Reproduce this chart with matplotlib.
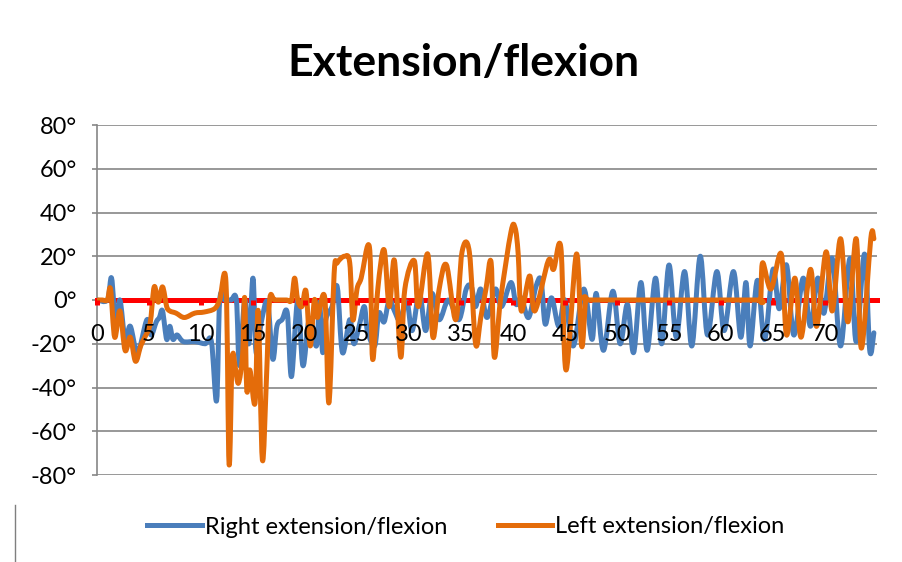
import matplotlib
matplotlib.use('Agg')
import matplotlib.pyplot as plt
from matplotlib.lines import Line2D
from matplotlib.path import Path
from matplotlib.patches import PathPatch

plt.rcParams['font.family'] = ['Lato', 'DejaVu Sans']

# readings (x position, angle in degrees) taken off the chart
right_x = [0, 1.0, 1.4, 1.8, 2.2, 2.7, 3.2, 3.9, 4.8, 5.2, 5.7, 6.0, 6.3, 6.7, 7.0, 7.3,
           7.7, 8.3, 9.4, 10.4, 11.0, 11.5, 11.8, 12.3, 12.9, 13.4, 13.7, 14.2, 14.6,
           15.0, 15.3, 15.8, 16.4, 16.9, 17.3, 17.8, 18.3, 18.7, 19.3, 19.8, 20.4, 21.1,
           21.4, 21.7, 22.0, 22.6, 23.1, 23.6, 24.3, 24.7, 25.2, 25.7, 26.0, 26.7, 27.1,
           27.6, 28.1, 28.6, 29.1, 29.8, 30.3, 31.0, 31.6, 32.2, 32.9, 33.8, 34.8, 35.5,
           36.0, 36.4, 36.9, 37.5, 38.3, 38.9, 39.8, 40.3, 40.8, 41.5, 42.2, 42.7, 43.1,
           43.7, 44.4, 45.0, 45.8, 46.8, 47.6, 48.0, 48.7, 49.6, 50.3, 51.0, 51.6, 52.3,
           52.9, 53.7, 54.3, 55.0, 55.7, 56.5, 57.2, 58.0, 58.7, 59.6, 60.3, 61.2, 61.9,
           62.4, 62.8, 63.5, 64.2, 65.0, 65.6, 66.3, 67.0, 67.9, 68.6, 69.3, 69.9, 70.7,
           71.5, 72.4, 73.0, 73.8, 74.3, 74.7]
right_y = [0, 0, 10, -12, 0, -18, -12, -24, -9, -16, -10, -8, -5, -18, -12, -18,
           -16, -19, -19, -20, -19, -46, 0, 0, 0, 0, -30, 0, -20,
           10, -24, -10, -1, -27, -12, -9, -6, -35, 0, -30, -9, -21,
           -1, -24, -9, -3, 6, -24, -9, -20, -12, -3, -14, -21, -6,
           -10, 0, -5, -9, -1, -14, 3, -14, 3, -9, 0, -9, 5,
           6, -3, 5, -8, 5, -3, 8, -2, 1, -8, 6, 9, -11,
           1, -12, 0, -21, 5, -18, 3, -23, 4, -20, -2, -24, 8,
           -23, 10, -20, 16, -17, 13, -21, 20, -16, 13, -14, 13, -17,
           8, -21, 9, -18, 14, -4, 16, -16, 10, -12, 10, -6, 19,
           -21, 19, -19, 21, -23, -15]

left_x = [0, 0.5, 1.0, 1.3, 1.7, 2.2, 2.7, 3.2, 3.7, 4.2, 4.6, 5.1, 5.5, 5.9, 6.3, 6.7,
          7.0, 7.6, 8.4, 9.4, 10.3, 11.3, 11.8, 12.4, 12.7, 13.0, 13.3, 13.6, 14.0,
          14.2, 14.4, 14.7, 15.2, 15.5, 15.9, 16.3, 16.6, 17.1, 18.2, 18.7, 19.0, 19.3,
          19.7, 20.1, 20.5, 20.9, 21.2, 21.9, 22.3, 22.8, 23.1, 23.8, 24.3, 24.6, 25.0,
          25.4, 26.2, 26.5, 27.0, 27.6, 28.1, 28.6, 29.2, 29.6, 30.5, 30.9, 31.8, 32.3,
          32.9, 33.6, 34.5, 35.1, 35.8, 36.4, 36.9, 37.4, 37.9, 38.2, 38.8, 39.8, 40.2,
          40.5, 40.8, 41.6, 42.1, 43.4, 43.9, 44.6, 45.1, 46.1, 46.6, 47.0, 47.5, 55.0,
          63.3, 63.8, 64.0, 64.8, 65.8, 66.3, 67.1, 67.7, 68.6, 69.2, 70.1, 70.7, 71.5,
          72.2, 73.0, 73.5, 74.4, 74.7]
left_y = [0, 0, 0, 5, -17, -5, -23, -17, -28, -21, -17, -11, 6, -1, 6, -3,
          -5, -6, -8, -6, -5.5, -4, 0, 8, -75, -27, -31, -38, -25,
          1, -41, -32, -47, -5, -73, -35, 0, 0, 0, 0, 10, 0,
          -3, 4, -21, 0, -8, 1, -47, 12, 17, 20, 17, -9, 5,
          10, 24, -27, 5, 23, -3, 18, -26, 5, 18, -3, 21, -17,
          5, 16, -9, 22, 22, -20, -8, 5, 17, -26, 0, 31, 33,
          21, -5, 11, -5, 18, 14, 24, -32, 21, -21, 0, 0, 0,
          0, 0, 17, 5, 21, -16, 10, -17, 14, -12, 22, -5, 28,
          -10, 28, -22, 28, 28]

x_ticks = [0, 5, 10, 15, 20, 25, 30, 35, 40, 45, 50, 55, 60, 65, 70]
y_ticks = [-80, -60, -40, -20, 0, 20, 40, 60, 80]
y_labels = ['-80°', '-60°', '-40°', '-20°', '0°', '20°', '40°', '60°', '80°']

blue = '#4A7EBB'
orange = '#E46C0A'
grid_col = '#868686'


def smooth_path(xs, ys, k=6.0):
    # Excel-like smoothed line: Catmull-Rom segments drawn as cubic Beziers
    pts = list(zip(xs, ys))
    verts = [pts[0]]
    codes = [Path.MOVETO]
    n = len(pts)
    for i in range(n - 1):
        p0 = pts[max(i - 1, 0)]
        p1 = pts[i]
        p2 = pts[i + 1]
        p3 = pts[min(i + 2, n - 1)]
        c1 = (p1[0] + (p2[0] - p0[0]) / k, p1[1] + (p2[1] - p0[1]) / k)
        c2 = (p2[0] - (p3[0] - p1[0]) / k, p2[1] - (p3[1] - p1[1]) / k)
        verts += [c1, c2, p2]
        codes += [Path.CURVE4] * 3
    return Path(verts, codes)


fig = plt.figure(figsize=(9.03, 5.62), dpi=100)
ax = fig.add_axes([97 / 903, 1 - 475 / 562, 780 / 903, 350 / 562])

ax.add_patch(PathPatch(smooth_path(right_x, right_y), fill=False, edgecolor=blue,
                       lw=3.6, joinstyle='round', capstyle='round', zorder=3))
ax.add_patch(PathPatch(smooth_path(left_x, left_y), fill=False, edgecolor=orange,
                       lw=3.6, joinstyle='round', capstyle='round', zorder=4))

ax.set_xlim(0, 75)
ax.set_ylim(-80, 80)

ax.set_yticks(y_ticks)
ax.set_yticklabels(y_labels)
ax.set_xticks(x_ticks)
ax.set_xticklabels([str(t) for t in x_ticks])

ax.yaxis.grid(True, color=grid_col, lw=1.2)
ax.set_axisbelow(True)
# category labels sit on top of the series, as in the original
ax.xaxis.set_zorder(6)

for s in ['top', 'right']:
    ax.spines[s].set_visible(False)
ax.spines['left'].set_color(grid_col)
ax.spines['left'].set_linewidth(1.2)
ax.spines['bottom'].set_position(('data', 0))
ax.spines['bottom'].set_color('#FF0000')
ax.spines['bottom'].set_linewidth(3.6)
ax.spines['bottom'].set_zorder(2.5)

ax.tick_params(axis='x', colors='#FF0000', direction='out', length=3.5, width=3.6,
               pad=14, labelsize=17, labelcolor='black')
ax.tick_params(axis='y', colors=grid_col, direction='out', length=3.5, width=1.2,
               pad=11, labelsize=17, labelcolor='black')

fig.text(463 / 903, 1 - 63 / 562, 'Extension/flexion', ha='center', va='center',
         fontsize=32, fontweight='bold')

handles = [Line2D([], [], color=blue, lw=3.6),
           Line2D([], [], color=orange, lw=3.6)]
fig.legend(handles, ['Right extension/flexion', 'Left extension/flexion'],
           loc='center', bbox_to_anchor=(466 / 903, 1 - 527 / 562), ncol=2,
           frameon=False, fontsize=17, handlelength=2.3, handletextpad=0.13,
           columnspacing=2.15)

# chart frame edge visible at the lower left of the original
fig.add_artist(Line2D([15 / 903, 15 / 903], [0, 1 - 505 / 562], color='#7f7f7f', lw=1))

fig.savefig('out.png', dpi=100)
